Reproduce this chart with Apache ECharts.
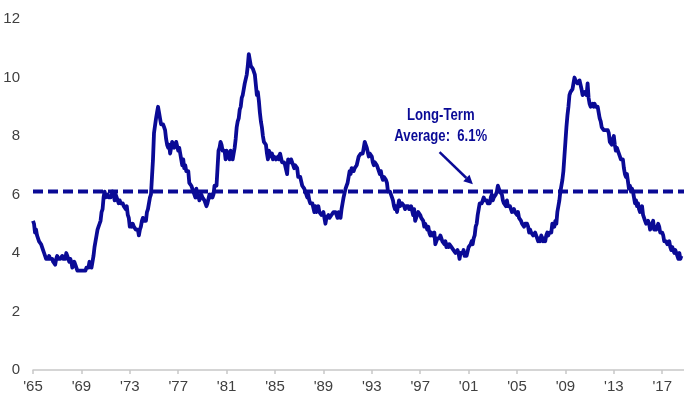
<!DOCTYPE html>
<html>
<head>
<meta charset="utf-8">
<script src="https://cdn.jsdelivr.net/npm/echarts@6/dist/echarts.min.js"></script>
<style>
  html, body { margin: 0; padding: 0; background: #fff; }
  #chart { width: 684px; height: 396px; }
</style>
</head>
<body>
<div id="chart"></div>
<script>
// Monthly unemployment rate (%), one row of twelve months per year, from 1965.
const startYear = 1965;
const rates = [
  [5.1,5.0,4.7,4.8,4.6,4.6,4.4,4.4,4.3,4.2,4.1,4.0], // 1965
  [4.0,3.8,3.8,3.8,3.9,3.8,3.8,3.8,3.7,3.7,3.6,3.8], // 1966
  [3.9,3.8,3.8,3.8,3.8,3.9,3.8,3.8,3.8,4.0,3.9,3.8], // 1967
  [3.7,3.8,3.7,3.5,3.5,3.7,3.7,3.5,3.4,3.4,3.4,3.4], // 1968
  [3.4,3.4,3.4,3.4,3.4,3.5,3.5,3.5,3.7,3.7,3.5,3.5], // 1969
  [3.9,4.2,4.4,4.6,4.8,4.9,5.0,5.1,5.4,5.5,5.9,6.1], // 1970
  [5.9,5.9,6.0,5.9,5.9,5.9,6.0,6.1,6.0,5.8,6.0,6.0], // 1971
  [5.8,5.7,5.8,5.7,5.7,5.7,5.6,5.6,5.5,5.6,5.3,5.2], // 1972
  [4.9,5.0,4.9,5.0,4.9,4.9,4.8,4.8,4.8,4.6,4.8,4.9], // 1973
  [5.1,5.2,5.1,5.1,5.1,5.4,5.5,5.5,5.9,6.0,6.6,7.2], // 1974
  [8.1,8.1,8.6,8.8,9.0,8.8,8.6,8.4,8.4,8.4,8.3,8.2], // 1975
  [7.9,7.7,7.6,7.7,7.4,7.6,7.8,7.8,7.6,7.7,7.8,7.8], // 1976
  [7.5,7.6,7.4,7.2,7.0,7.2,6.9,7.0,6.8,6.8,6.8,6.4], // 1977
  [6.4,6.3,6.3,6.1,6.0,5.9,6.2,5.9,6.0,5.8,5.9,6.0], // 1978
  [5.9,5.9,5.8,5.8,5.6,5.7,5.7,6.0,5.9,6.0,5.9,6.0], // 1979
  [6.3,6.3,6.3,6.9,7.5,7.6,7.8,7.7,7.5,7.5,7.5,7.2], // 1980
  [7.5,7.4,7.4,7.2,7.5,7.5,7.2,7.4,7.6,7.9,8.3,8.5], // 1981
  [8.6,8.9,9.0,9.3,9.4,9.6,9.8,9.8,10.1,10.4,10.8,10.8], // 1982
  [10.4,10.4,10.3,10.2,10.1,10.1,9.4,9.5,9.2,8.8,8.5,8.3], // 1983
  [8.0,7.8,7.8,7.7,7.4,7.2,7.5,7.5,7.3,7.4,7.2,7.3], // 1984
  [7.3,7.2,7.2,7.3,7.2,7.4,7.4,7.1,7.1,7.1,7.0,7.0], // 1985
  [6.7,7.2,7.2,7.1,7.2,7.2,7.0,6.9,7.0,7.0,6.9,6.6], // 1986
  [6.6,6.6,6.6,6.3,6.3,6.2,6.1,6.0,5.9,6.0,5.8,5.7], // 1987
  [5.7,5.7,5.7,5.4,5.6,5.4,5.4,5.6,5.4,5.4,5.3,5.3], // 1988
  [5.4,5.2,5.0,5.2,5.2,5.3,5.2,5.2,5.3,5.3,5.4,5.4], // 1989
  [5.4,5.3,5.2,5.4,5.4,5.2,5.5,5.7,5.9,5.9,6.2,6.3], // 1990
  [6.4,6.6,6.8,6.7,6.9,6.9,6.8,6.9,6.9,7.0,7.0,7.3], // 1991
  [7.3,7.4,7.4,7.4,7.6,7.8,7.7,7.6,7.6,7.3,7.4,7.4], // 1992
  [7.3,7.1,7.0,7.1,7.1,7.0,6.9,6.8,6.7,6.8,6.6,6.5], // 1993
  [6.6,6.6,6.5,6.4,6.1,6.1,6.1,6.0,5.9,5.8,5.6,5.5], // 1994
  [5.6,5.4,5.4,5.8,5.6,5.6,5.7,5.7,5.6,5.5,5.6,5.6], // 1995
  [5.6,5.5,5.5,5.6,5.6,5.3,5.5,5.1,5.2,5.2,5.4,5.4], // 1996
  [5.3,5.2,5.2,5.1,4.9,5.0,4.9,4.8,4.9,4.7,4.6,4.7], // 1997
  [4.6,4.6,4.7,4.3,4.4,4.5,4.5,4.5,4.6,4.5,4.4,4.4], // 1998
  [4.3,4.4,4.2,4.3,4.2,4.3,4.3,4.2,4.2,4.1,4.1,4.0], // 1999
  [4.0,4.1,4.0,3.8,4.0,4.0,4.0,4.1,3.9,3.9,3.9,3.9], // 2000
  [4.2,4.2,4.3,4.4,4.3,4.5,4.6,4.9,5.0,5.3,5.5,5.7], // 2001
  [5.7,5.7,5.7,5.9,5.8,5.8,5.8,5.7,5.7,5.7,5.9,6.0], // 2002
  [5.8,5.9,5.9,6.0,6.1,6.3,6.2,6.1,6.1,6.0,5.8,5.7], // 2003
  [5.7,5.6,5.8,5.6,5.6,5.6,5.5,5.4,5.4,5.5,5.4,5.4], // 2004
  [5.3,5.4,5.2,5.2,5.1,5.0,5.0,4.9,5.0,5.0,5.0,4.9], // 2005
  [4.7,4.8,4.7,4.7,4.6,4.6,4.7,4.7,4.5,4.4,4.5,4.4], // 2006
  [4.6,4.5,4.4,4.5,4.4,4.6,4.7,4.6,4.7,4.7,4.7,5.0], // 2007
  [5.0,4.9,5.1,5.0,5.4,5.6,5.8,6.1,6.1,6.5,6.8,7.3], // 2008
  [7.8,8.3,8.7,9.0,9.4,9.5,9.5,9.6,9.8,10.0,9.9,9.9], // 2009
  [9.8,9.8,9.9,9.9,9.6,9.4,9.4,9.5,9.5,9.4,9.8,9.3], // 2010
  [9.1,9.0,9.0,9.1,9.0,9.1,9.0,9.0,9.0,8.8,8.6,8.5], // 2011
  [8.3,8.3,8.2,8.2,8.2,8.2,8.2,8.1,7.8,7.8,7.7,7.9], // 2012
  [8.0,7.7,7.5,7.6,7.5,7.5,7.3,7.2,7.2,7.2,6.9,6.7], // 2013
  [6.6,6.7,6.7,6.2,6.3,6.1,6.2,6.1,5.9,5.7,5.8,5.6], // 2014
  [5.7,5.5,5.4,5.4,5.6,5.3,5.2,5.1,5.0,5.0,5.1,5.0], // 2015
  [4.8,4.9,5.0,5.1,4.8,4.9,4.8,4.9,5.0,4.9,4.7,4.7], // 2016
  [4.7,4.6,4.4,4.4,4.4,4.3,4.3,4.4,4.2,4.1,4.2,4.1], // 2017
  [4.0,4.1,4.0,4.0,3.8,4.0,3.8,3.9]                  // 2018
];

const longTermAverage = 6.1;
const yTicks = [0, 2, 4, 6, 8, 10, 12];
const xTickStep = 4;          // years between x-axis labels
const xSpan = 53.8;           // years shown on the axis from startYear
const annotationLines = ['Long-Term', 'Average:  6.1%'];

// Flatten into [yearsSinceStart, rate] pairs
const series = [];
rates.forEach((row, yi) => {
  row.forEach((v, mi) => series.push([yi + mi / 12, v]));
});

const navy = '#0a0a96';
const chart = echarts.init(document.getElementById('chart'));
const font = "'Liberation Sans Narrow', 'Arial Narrow', 'Liberation Sans', Arial, sans-serif";

chart.setOption({
  animation: false,
  grid: { left: 33, right: 0, top: 19, bottom: 26, containLabel: false },
  xAxis: {
    type: 'value',
    min: 0,
    max: xSpan,
    interval: xTickStep,
    splitLine: { show: false },
    axisLine: { show: true, lineStyle: { color: '#c8c8c8', width: 1.5 } },
    axisTick: { show: true, length: 4, lineStyle: { color: '#c8c8c8', width: 1.5 } },
    axisLabel: {
      margin: 9,
      color: '#404040',
      fontFamily: font,
      fontSize: 15,
      showMaxLabel: false,
      formatter: v => {
        if (Math.abs(v % xTickStep) > 1e-6) return '';
        const yy = (startYear + v) % 100;
        return "'" + (yy < 10 ? '0' + yy : yy);
      }
    }
  },
  yAxis: {
    type: 'value',
    min: yTicks[0],
    max: yTicks[yTicks.length - 1],
    interval: 2,
    splitLine: { show: false },
    axisLine: { show: false },
    axisTick: { show: false },
    axisLabel: { margin: 13, color: '#404040', fontFamily: font, fontSize: 15 }
  },
  series: [
    {
      type: 'line',
      data: series,
      showSymbol: false,
      lineStyle: { color: navy, width: 3.8, join: 'round' },
      z: 3
    },
    {
      type: 'line',
      data: [[0, longTermAverage], [xSpan, longTermAverage]],
      showSymbol: false,
      lineStyle: { color: navy, width: 4, type: [10, 5] },
      z: 2
    }
  ]
});

// Annotation text and arrow, placed in data coordinates
function addAnnotation() {
  const textPos = chart.convertToPixel({ gridIndex: 0 }, [33.7, 8.35]);
  const arrowFrom = chart.convertToPixel({ gridIndex: 0 }, [33.6, 7.45]);
  const arrowTo = chart.convertToPixel({ gridIndex: 0 }, [36.35, 6.35]);
  const dx = arrowTo[0] - arrowFrom[0], dy = arrowTo[1] - arrowFrom[1];
  const len = Math.sqrt(dx * dx + dy * dy);
  const ux = dx / len, uy = dy / len;
  const head = 9, half = 4.5;
  const bx = arrowTo[0] - ux * head, by = arrowTo[1] - uy * head;
  chart.setOption({
    graphic: [
      {
        type: 'text',
        x: textPos[0],
        y: textPos[1],
        scaleX: 0.82,
        style: {
          text: annotationLines.join('\n'),
          fill: navy,
          font: "bold 16px " + font,
          align: 'center',
          verticalAlign: 'middle',
          lineHeight: 21
        },
        z: 10
      },
      {
        type: 'line',
        shape: { x1: arrowFrom[0], y1: arrowFrom[1], x2: bx, y2: by },
        style: { stroke: navy, lineWidth: 2.5 },
        z: 10
      },
      {
        type: 'polygon',
        shape: {
          points: [
            [arrowTo[0], arrowTo[1]],
            [bx - uy * half, by + ux * half],
            [bx + uy * half, by - ux * half]
          ]
        },
        style: { fill: navy },
        z: 10
      }
    ]
  });
}
addAnnotation();
</script>
</body>
</html>
